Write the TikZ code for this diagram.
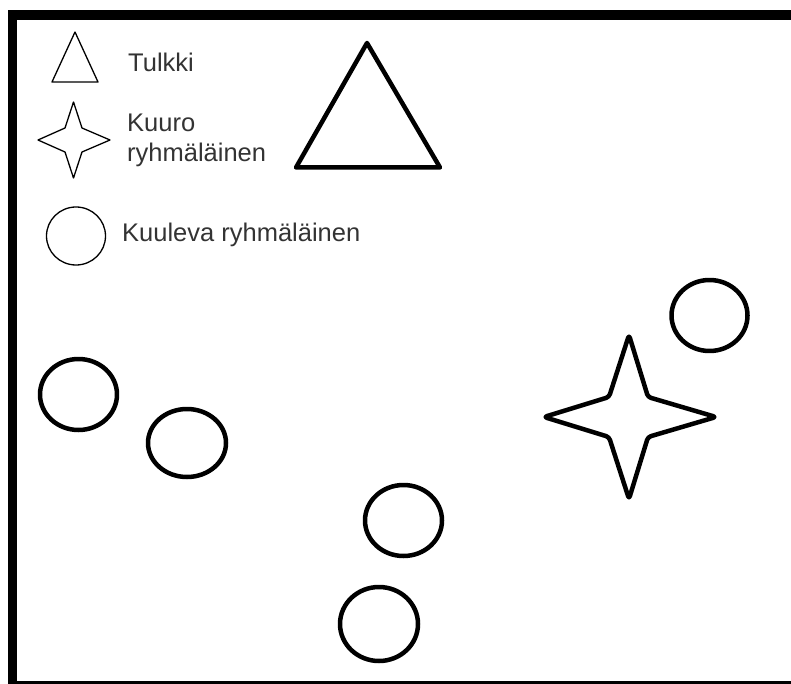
\documentclass[tikz,border=0pt]{standalone}
\usepackage{fontspec}
\setmainfont{Liberation Sans}
\begin{document}
\begin{tikzpicture}[x=1pt,y=-1pt,
  thinshape/.style={draw=black,line width=1.3pt,line join=round},
  boldshape/.style={draw=black,line width=4.5pt,line join=round},
  legendtext/.style={inner sep=0pt,anchor=base west,text=black!80,
    font=\fontsize{25.5}{30}\selectfont,align=left}]
\useasboundingbox (0,0) rectangle (791,684);
\clip (0,0) rectangle (791,684);
\fill[white] (0,0) rectangle (791,684);

% frame, open beyond the right and lower edges
\draw[line width=9.5pt] (12.5,15) rectangle (820,685.5);

% legend
\draw[thinshape] (75,32) -- (98,82) -- (52,82) -- cycle;
\node[legendtext] (tulkki) at (128,72) {Tulkki};

\draw[thinshape] (73.5,102) -- (82,128) -- (110,140) -- (82,152) -- (73.5,178)
  -- (65,152) -- (38,140) -- (65,128) -- cycle;
% two-line label: the anchor sits on the baseline of its last line
\node[legendtext] (kuuro) at (127,162) {Kuuro\\ryhmäläinen};

\draw[thinshape] (76,236) ellipse [x radius=29.5,y radius=29];
\node[legendtext] (kuuleva) at (122,242) {Kuuleva ryhmäläinen};

% interpreter
\draw[boldshape] (367,43) -- (440,167.5) -- (296,167.5) -- cycle;

% deaf member
\draw[boldshape,rounded corners=3pt] (629,335) -- (648,397) -- (716,417) -- (648,437)
  -- (629,499) -- (609,437) -- (544,417) -- (609,397) -- cycle;

% hearing members
\draw[boldshape] (709.5,315.5) ellipse [x radius=38,y radius=35.5];
\draw[boldshape] (78.5,394.5) ellipse [x radius=38.5,y radius=35.5];
\draw[boldshape] (187,443) ellipse [x radius=39,y radius=34];
\draw[boldshape] (403.5,520.5) ellipse [x radius=38.5,y radius=35.5];
\draw[boldshape] (379,624) ellipse [x radius=39,y radius=37];
\end{tikzpicture}
\end{document}
